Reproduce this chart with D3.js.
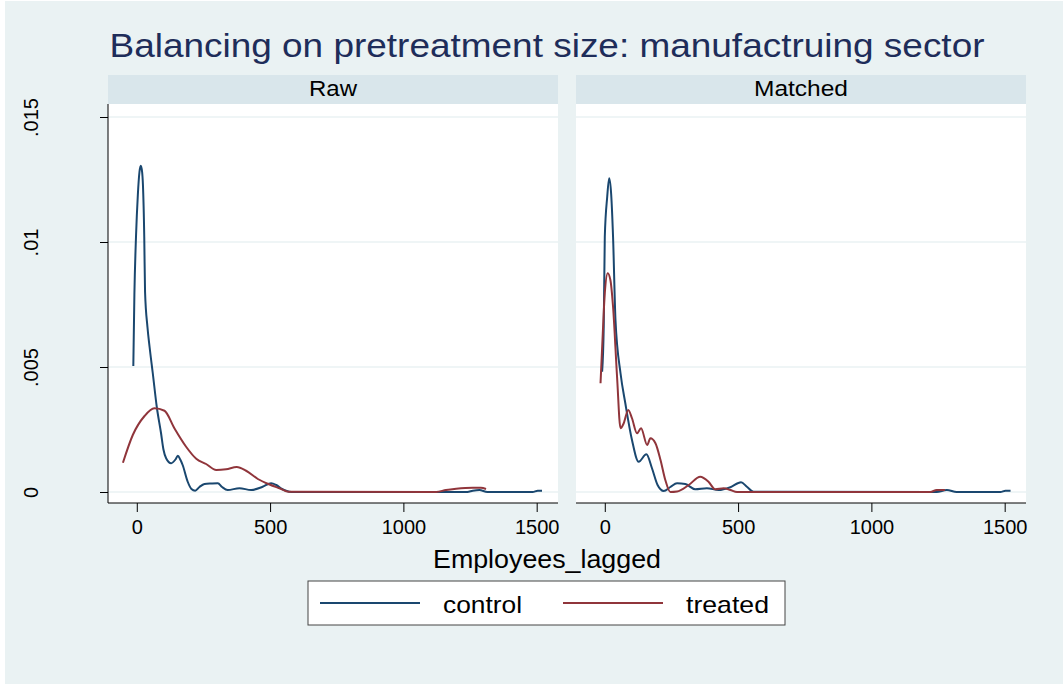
<!DOCTYPE html>
<html>
<head>
<meta charset="utf-8">
<script src="https://cdn.jsdelivr.net/npm/d3@7"></script>
<style>
  body { margin: 0; background: #fff; }
  svg text { font-family: "Liberation Sans", Arial, sans-serif; }
</style>
</head>
<body>
<div id="chart"></div>
<script>
// density estimates: [Employees_lagged, density]
var rawControl = [[-13,0.00504],[-9,0.0079],[-3,0.0102],[4,0.0119],[10,0.0128],[15,0.01305],[20,0.0128],[23,0.0123],[28,0.0102],[31,0.0080],[40,0.0066],[48,0.0058],[60,0.00475],[75,0.0034],[91,0.00235],[100,0.0017],[110,0.00135],[129,0.00115],[145,0.0013],[154,0.00145],[163,0.0013],[172,0.00108],[191,0.00041],[205,0.00012],[219,0.00005],[235,0.0002],[254,0.00032],[280,0.00034],[304,0.00035],[320,0.0002],[341,0.00008],[385,0.00015],[429,0.00008],[472,0.00021],[504,0.00035],[523,0.00028],[545,0.00012],[560,0.00005],[580,0],[1240,0],[1260,0.00005],[1285,0.00008],[1315,0],[1485,0],[1504,0.00005],[1520,0.00005]];
var rawTreated = [[-52,0.00117],[-15,0.00228],[29,0.00304],[66,0.00335],[104,0.00325],[141,0.00255],[185,0.00181],[223,0.00133],[260,0.00112],[298,0.00088],[335,0.00091],[375,0.001],[410,0.00085],[454,0.00052],[498,0.0003],[535,0.00015],[570,0.00001],[1123,0],[1160,0.00008],[1198,0.00013],[1260,0.00017],[1291,0.00017],[1310,0.00012]];
var matchedControl = [[-10,0.00481],[-4,0.0066],[0,0.0102],[9,0.0118],[16.5,0.01255],[24,0.0119],[31,0.0102],[40,0.0069],[59,0.00475],[77,0.00355],[102,0.00208],[127,0.00121],[156,0.00151],[177,0.00095],[198,0.00028],[221,0.00004],[246,0.0002],[271,0.00035],[302,0.00032],[339,0.00011],[383,0.00015],[427,0.00008],[471,0.00019],[511,0.00039],[533,0.00021],[558,0.00001],[1245,0],[1283,0.00008],[1320,0],[1484,0],[1503,0.00005],[1522,0.00005]];
var matchedTreated = [[-16,0.00435],[-7.5,0.00635],[0,0.00795],[11,0.00875],[21,0.00848],[31,0.00741],[46,0.00461],[59,0.00255],[71,0.00275],[88,0.00328],[102,0.00295],[121,0.00235],[136,0.00255],[159,0.00188],[171,0.00215],[190,0.00195],[209,0.00128],[227,0.00048],[246,0],[271,0.00002],[315,0.00028],[358,0.00061],[389,0.00041],[414,0.00011],[446,0.00015],[471,0.00008],[496,0],[1221,0],[1245,0.00008],[1276,0.00008]];

var panelNames = ["Raw", "Matched"];
var seriesNames = ["control", "treated"];
var xTicks = [0, 500, 1000, 1500];
var yTicks = [0, 0.005, 0.01, 0.015];
var yTickLabels = ["0", ".005", ".01", ".015"];

var panels = [
  { name: panelNames[0], left: 108, width: 48, series: [rawControl, rawTreated] },
  { name: panelNames[1], left: 576, width: 94, series: [matchedControl, matchedTreated] }
];

var colors = ["#1a476f", "#90353b"];
var W = 1063, H = 685;
var panelW = 450, plotTop = 104, plotBottom = 503, stripTop = 75;

var svg = d3.select("#chart").append("svg")
  .attr("width", W)
  .attr("height", H);

// outer background
svg.append("rect")
  .attr("x", 5).attr("y", 1)
  .attr("width", W - 5).attr("height", H - 2)
  .attr("fill", "#eaf2f3");

// title (stata's text runs a bit wider than Liberation Sans)
svg.append("text")
  .attr("x", 547).attr("y", 57)
  .attr("text-anchor", "middle")
  .attr("fill", "#1e2d5a")
  .attr("textLength", 875)
  .attr("lengthAdjust", "spacingAndGlyphs")
  .style("font-size", "33px")
  .text("Balancing on pretreatment size: manufactruing sector");

var y = d3.scaleLinear()
  .domain([0, 0.015])
  .range([492, 117]);

var line = d3.line()
  .x(function(d) { return d[0]; })
  .y(function(d) { return d[1]; })
  .curve(d3.curveMonotoneX);

panels.forEach(function(p, i) {
  var x = d3.scaleLinear()
    .domain([-108, 1580])
    .range([p.left, p.left + panelW]);

  var g = svg.append("g");

  // strip header
  g.append("rect")
    .attr("x", p.left).attr("y", stripTop)
    .attr("width", panelW).attr("height", plotTop - stripTop)
    .attr("fill", "#d9e6eb");
  g.append("text")
    .attr("x", p.left + panelW / 2).attr("y", 96)
    .attr("text-anchor", "middle")
    .attr("textLength", p.width)
    .attr("lengthAdjust", "spacingAndGlyphs")
    .style("font-size", "22px")
    .attr("fill", "#000")
    .text(p.name);

  // plot region
  g.append("rect")
    .attr("x", p.left).attr("y", plotTop)
    .attr("width", panelW).attr("height", plotBottom - plotTop)
    .attr("fill", "#fff");

  // grid
  g.selectAll(".grid")
    .data(yTicks)
    .enter().append("line")
    .attr("x1", p.left).attr("x2", p.left + panelW)
    .attr("y1", function(d) { return y(d); })
    .attr("y2", function(d) { return y(d); })
    .attr("stroke", "#eaf2f3")
    .attr("stroke-width", 1.5);

  // x axis
  var xAxis = d3.axisBottom(x)
    .tickValues(xTicks)
    .tickSize(9)
    .tickPadding(8)
    .tickFormat(d3.format("d"));
  var xg = g.append("g")
    .attr("transform", "translate(0," + plotBottom + ")")
    .call(xAxis);
  xg.select(".domain")
    .attr("d", "M" + p.left + ",0H" + (p.left + panelW))
    .attr("stroke", "#000");
  xg.selectAll(".tick line").attr("stroke", "#000");
  xg.selectAll(".tick text")
    .style("font-size", "20px")
    .attr("fill", "#000")
    .attr("font-family", null);

  // y axis only on the first panel
  if (i === 0) {
    var yAxis = d3.axisLeft(y)
      .tickValues(yTicks)
      .tickSize(8)
      .tickFormat(function(d, k) { return yTickLabels[k]; });
    var yg = g.append("g")
      .attr("transform", "translate(" + p.left + ",0)")
      .call(yAxis);
    yg.select(".domain")
      .attr("d", "M0," + plotTop + "V" + plotBottom)
      .attr("stroke", "#000");
    yg.selectAll(".tick line").attr("stroke", "#000");
    yg.selectAll(".tick text")
      .style("font-size", "20px")
      .attr("fill", "#000")
      .attr("font-family", null)
      .attr("text-anchor", "middle")
      .attr("dy", null)
      .attr("x", null)
      .attr("transform", "translate(-70,0) rotate(-90)");
  }

  // density curves
  p.series.forEach(function(s, k) {
    g.append("path")
      .datum(s.map(function(d) { return [x(d[0]), y(d[1])]; }))
      .attr("d", line)
      .attr("fill", "none")
      .attr("stroke", colors[k])
      .attr("stroke-width", 2);
  });
});

// x axis title
svg.append("text")
  .attr("x", 547).attr("y", 568)
  .attr("text-anchor", "middle")
  .attr("textLength", 228)
  .attr("lengthAdjust", "spacingAndGlyphs")
  .style("font-size", "25px")
  .attr("fill", "#000")
  .text("Employees_lagged");

// legend
var legend = svg.append("g");
legend.append("rect")
  .attr("x", 308).attr("y", 581)
  .attr("width", 477).attr("height", 44)
  .attr("fill", "#fff")
  .attr("stroke", "#444")
  .attr("stroke-width", 1);

var legendX = [320, 563];
var legendTextW = [79, 83];
seriesNames.forEach(function(name, k) {
  legend.append("line")
    .attr("x1", legendX[k]).attr("x2", legendX[k] + 100)
    .attr("y1", 603).attr("y2", 603)
    .attr("stroke", colors[k])
    .attr("stroke-width", 2);
  legend.append("text")
    .attr("x", legendX[k] + 123).attr("y", 613)
    .attr("textLength", legendTextW[k])
    .attr("lengthAdjust", "spacingAndGlyphs")
    .style("font-size", "24px")
    .attr("fill", "#000")
    .text(name);
});
</script>
</body>
</html>
